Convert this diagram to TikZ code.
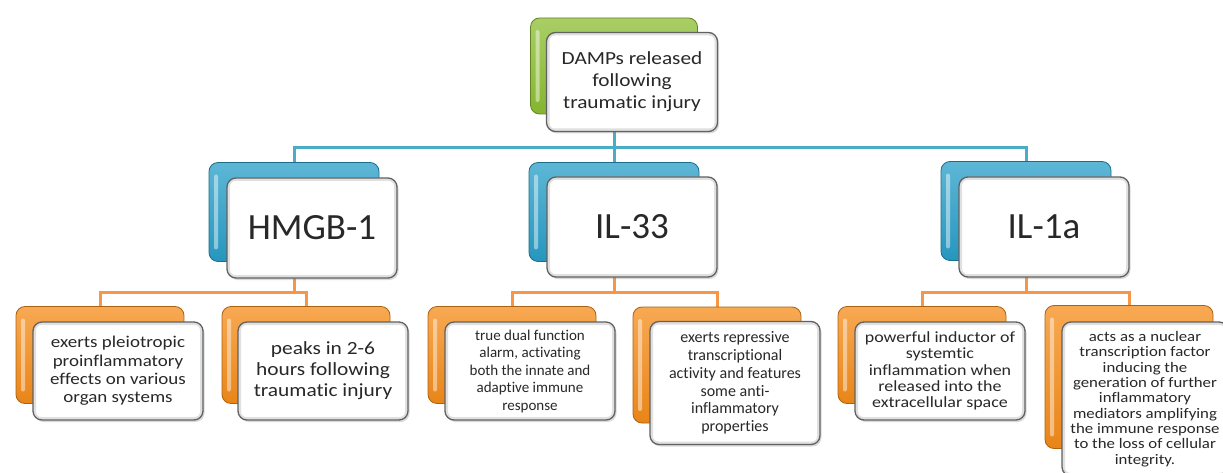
\documentclass[tikz,border=0pt]{standalone}
\usepackage{fontspec}
\setmainfont{Carlito}[Ligatures=NoCommon]
\newfontfamily\widefont{Carlito}[Ligatures=NoCommon,FakeStretch=1.15]
\usetikzlibrary{shadows}
\pgfdeclarelayer{background}
\pgfsetlayers{background,main}
\definecolor{cgreen}{RGB}{140,190,50}
\definecolor{cblue}{RGB}{40,158,200}
\definecolor{corange}{RGB}{245,140,25}
\definecolor{lblue}{RGB}{75,172,198}
\definecolor{lorange}{RGB}{247,150,70}
\definecolor{txt}{RGB}{40,40,40}
\tikzset{
  backbox/.style={rounded corners=9pt, draw=#1!70!black, line width=0.8pt,
    top color=#1!75!white, bottom color=#1!95!black, inner sep=0pt,
    path picture={\fill[white,opacity=0.45,rounded corners=2pt]
      ([xshift=5pt,yshift=-12pt]path picture bounding box.north west) rectangle
      ([xshift=9pt,yshift=12pt]path picture bounding box.south west);}},
  frontbox/.style={rounded corners=9pt, draw=black!62, line width=1.3pt, fill=white,
    inner sep=0pt, align=center, text=txt,
    drop shadow={shadow xshift=1.5pt, shadow yshift=-2pt, opacity=0.3},
    path picture={\draw[black!12,line width=6pt,rounded corners=8pt]
      (path picture bounding box.north west) rectangle (path picture bounding box.south east);}},
  bluec/.style={draw=lblue, line width=3pt},
  orc/.style={draw=lorange, line width=3pt},
  lvone/.style={frontbox, minimum width=170pt, minimum height=100pt, font=\fontsize{37}{40}\selectfont},
}
\begin{document}
\begin{tikzpicture}[x=1pt,y=-1pt]
\useasboundingbox (0,0) rectangle (1223,473);
% top
\node[backbox=cgreen, minimum width=167pt, minimum height=96pt] (topB) at (614,66) {};
\node[frontbox, minimum width=171pt, minimum height=99pt, font=\widefont\fontsize{18.5}{22}\selectfont] (top) at (632,82) {DAMPs released\\following\\traumatic injury};
% level 1
\node[backbox=cblue, minimum width=170pt, minimum height=99pt] (hmgbB) at (294,212) {};
\node[lvone] (hmgb) at (312,228) {HMGB-1};
\node[backbox=cblue, minimum width=170pt, minimum height=99pt] (il33B) at (614,212) {};
\node[lvone] (il33) at (632,227) {IL-33};
\node[backbox=cblue, minimum width=170pt, minimum height=99pt] (il1aB) at (1026,211) {};
\node[lvone] (il1a) at (1044,227) {IL-1a};
% level 2
\node[backbox=corange, minimum width=168pt, minimum height=97pt] (h1B) at (100,355) {};
\node[frontbox, minimum width=170pt, minimum height=98pt, font=\widefont\fontsize{16.5}{18.3}\selectfont] (h1) at (118,371) {exerts pleiotropic\\proinflammatory\\effects on various\\organ systems};
\node[backbox=corange, minimum width=168pt, minimum height=97pt] (h2B) at (306,355) {};
\node[frontbox, minimum width=170pt, minimum height=98pt, font=\widefont\fontsize{18.6}{21}\selectfont] (h2) at (323,371) {peaks in 2-6\\hours following\\traumatic injury};
\node[backbox=corange, minimum width=168pt, minimum height=97pt] (a1B) at (512,355) {};
\node[frontbox, minimum width=170pt, minimum height=98pt, font=\fontsize{15}{17.5}\selectfont] (a1) at (530,371) {true dual function\\alarm, activating\\both the innate and\\adaptive immune\\response};
\node[backbox=corange, minimum width=168pt, minimum height=116pt] (a2B) at (717,365) {};
\node[frontbox, minimum width=170pt, minimum height=123pt, font=\fontsize{16}{17.7}\selectfont] (a2) at (735,383) {exerts repressive\\transcriptional\\activity and features\\some anti-\\inflammatory\\properties};
\node[backbox=corange, minimum width=168pt, minimum height=97pt] (b1B) at (922,355) {};
\node[frontbox, minimum width=170pt, minimum height=98pt, font=\widefont\fontsize{15.6}{16.3}\selectfont] (b1) at (940,371) {powerful inductor of\\systemtic\\inflammation when\\released into the\\extracellular space};
\node[backbox=corange, minimum width=168pt, minimum height=143pt] (b2B) at (1129,377) {};
\node[frontbox, minimum width=166pt, minimum height=154pt, font=\widefont\fontsize{14.6}{15.3}\selectfont] (b2) at (1145,399) {acts as a nuclear\\transcription factor\\inducing the\\generation of further\\inflammatory\\mediators amplifying\\the immune response\\to the loss of cellular\\integrity.};
% connectors
\coordinate (bus) at (0,148);
\coordinate (obus) at (0,292);
\begin{pgfonlayer}{background}
\draw[bluec] (topB) -- (topB |- bus) -| (hmgbB.north);
\draw[bluec] (topB |- bus) -- (il33B.north);
\draw[bluec] (topB |- bus) -| (il1aB.north);
\draw[orc] (hmgbB) -- (hmgbB |- obus) -| (h1B.north);
\draw[orc] (hmgbB |- obus) -| (h2B.north);
\draw[orc] (il33B) -- (il33B |- obus) -| (a1B.north);
\draw[orc] (il33B |- obus) -| (a2B.north);
\draw[orc] (il1aB) -- (il1aB |- obus) -| (b1B.north);
\draw[orc] (il1aB |- obus) -| (b2B.north);
\end{pgfonlayer}
\end{tikzpicture}
\end{document}
